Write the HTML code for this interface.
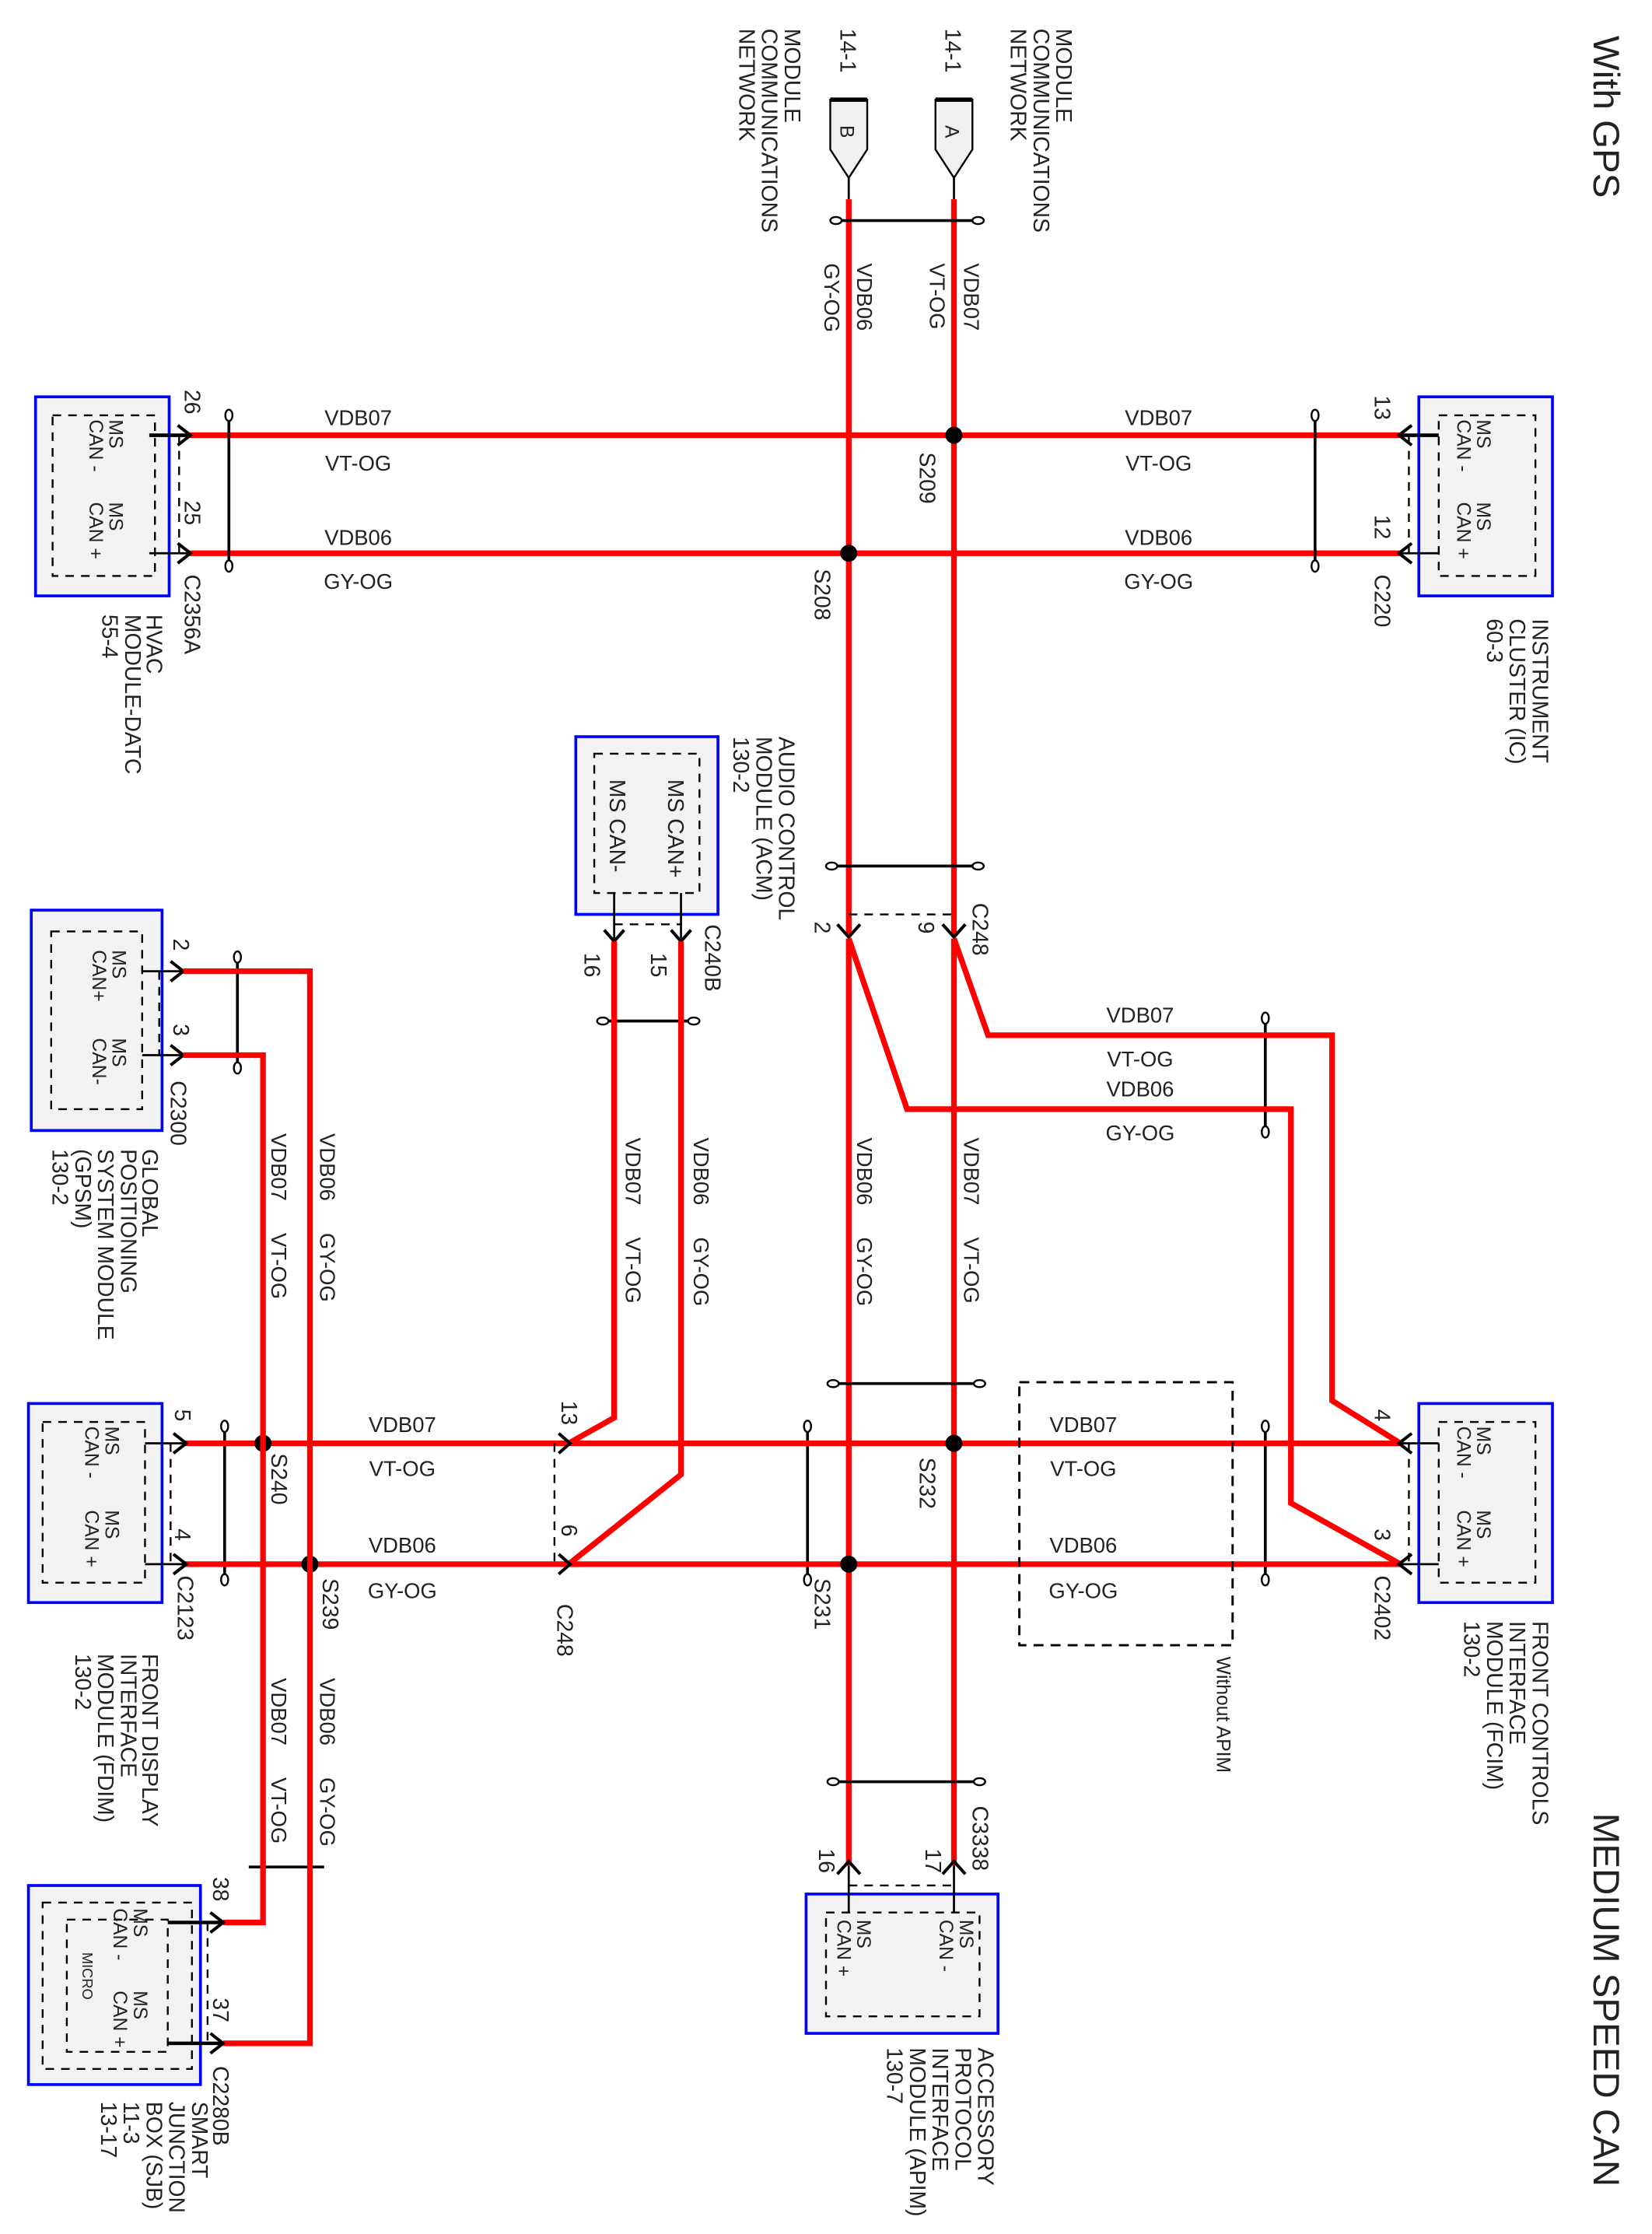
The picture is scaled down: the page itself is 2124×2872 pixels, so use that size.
<!DOCTYPE html>
<html><head><meta charset="utf-8">
<style>
html,body{margin:0;padding:0;background:#fff;}
svg{display:block;}
text{font-family:"Liberation Sans",Arial,sans-serif;fill:#222;}
.w{fill:none;stroke:#ff0000;stroke-width:4;stroke-linejoin:miter;}
.k{fill:none;stroke:#000;stroke-width:1.5;}
.a{fill:none;stroke:#000;stroke-width:2.2;}
.d{fill:none;stroke:#000;stroke-width:1.3;stroke-dasharray:6 5;}
.bx{fill:#f2f2f2;stroke:#0000ff;stroke-width:2;}
.t{font-size:15px;}
.s{font-size:15.5px;}
.x{font-size:13.5px;}
.tw{fill:#fff;stroke:#000;stroke-width:1.3;}
</style></head><body>
<svg width="2124" height="2872" viewBox="0 0 1162 1571" xmlns="http://www.w3.org/2000/svg">
<rect x="0" y="0" width="1162" height="1571" fill="#fff"/>

<!-- titles -->
<text transform="translate(1121 25) rotate(90)" style="font-size:26px">With GPS</text>
<text transform="translate(1121 1275) rotate(90)" style="font-size:26px">MEDIUM SPEED CAN</text>

<!-- top connectors A / B -->
<path d="M658 70 L684 70 L684 105 L671 125 L658 105 Z" fill="#f0f0f0" stroke="#000" stroke-width="1.3"/>
<line x1="658" y1="70" x2="684" y2="70" stroke="#000" stroke-width="3"/>
<text transform="translate(665 88) rotate(90)" class="x">A</text>
<path d="M584 70 L610 70 L610 105 L597 125 L584 105 Z" fill="#f0f0f0" stroke="#000" stroke-width="1.3"/>
<line x1="584" y1="70" x2="610" y2="70" stroke="#000" stroke-width="3"/>
<text transform="translate(591 88) rotate(90)" class="x">B</text>
<line x1="671" y1="125" x2="671" y2="140" class="k"/>
<line x1="597" y1="125" x2="597" y2="140" class="k"/>
<text transform="translate(665 20) rotate(90)" class="s">14-1</text>
<text transform="translate(591 20) rotate(90)" class="s">14-1</text>
<text transform="translate(743 20) rotate(90)" class="s">MODULE</text>
<text transform="translate(727 20) rotate(90)" class="s">COMMUNICATIONS</text>
<text transform="translate(711 20) rotate(90)" class="s">NETWORK</text>
<text transform="translate(552 20) rotate(90)" class="s">MODULE</text>
<text transform="translate(536 20) rotate(90)" class="s">COMMUNICATIONS</text>
<text transform="translate(520 20) rotate(90)" class="s">NETWORK</text>

<!-- main vertical wires -->
<line x1="671" y1="140" x2="671" y2="658" class="w"/>
<line x1="597" y1="140" x2="597" y2="658" class="w"/>
<line x1="671" y1="660" x2="671" y2="1312" class="w"/>
<line x1="597" y1="660" x2="597" y2="1312" class="w"/>
<text transform="translate(678 185) rotate(90)" class="t">VDB07</text>
<text transform="translate(654 185) rotate(90)" class="t">VT-OG</text>
<text transform="translate(603 185) rotate(90)" class="t">VDB06</text>
<text transform="translate(580 185) rotate(90)" class="t">GY-OG</text>

<!-- top horizontals -->
<line x1="133" y1="306" x2="985" y2="306" class="w"/>
<line x1="133" y1="389" x2="985" y2="389" class="w"/>
<circle cx="671" cy="306" r="6" fill="#000"/>
<circle cx="597" cy="389" r="6" fill="#000"/>
<text transform="translate(647 318) rotate(90)" class="s">S209</text>
<text transform="translate(573 400) rotate(90)" class="s">S208</text>
<text x="252" y="299" class="t" text-anchor="middle">VDB07</text>
<text x="252" y="331" class="t" text-anchor="middle">VT-OG</text>
<text x="252" y="383" class="t" text-anchor="middle">VDB06</text>
<text x="252" y="414" class="t" text-anchor="middle">GY-OG</text>
<text x="815" y="299" class="t" text-anchor="middle">VDB07</text>
<text x="815" y="331" class="t" text-anchor="middle">VT-OG</text>
<text x="815" y="383" class="t" text-anchor="middle">VDB06</text>
<text x="815" y="414" class="t" text-anchor="middle">GY-OG</text>

<!-- HVAC -->
<rect x="25" y="279" width="94" height="140" class="bx"/>
<rect x="37" y="292" width="72" height="113" class="d"/>
<line x1="105" y1="306" x2="133" y2="306" stroke="#000" stroke-width="2.5"/>
<line x1="105" y1="389" x2="133" y2="389" class="k"/>
<path d="M125 299 L134 306 L125 313" class="a"/>
<path d="M125 382 L134 389 L125 396" class="a"/>
<line x1="126" y1="306" x2="126" y2="389" class="d"/>
<text transform="translate(130 274) rotate(90)" class="s">26</text>
<text transform="translate(130 352) rotate(90)" class="s">25</text>
<text transform="translate(130 404) rotate(90)" class="s">C2356A</text>
<text transform="translate(77 295) rotate(90)" class="x">MS</text>
<text transform="translate(63 295) rotate(90)" class="x">CAN -</text>
<text transform="translate(77 353) rotate(90)" class="x">MS</text>
<text transform="translate(63 353) rotate(90)" class="x">CAN +</text>
<text transform="translate(103 432) rotate(90)" class="s">HVAC</text>
<text transform="translate(88 432) rotate(90)" class="s">MODULE-DATC</text>
<text transform="translate(72 432) rotate(90)" class="s">55-4</text>

<!-- IC -->
<rect x="998" y="279" width="94" height="140" class="bx"/>
<rect x="1012" y="292" width="68" height="113" class="d"/>
<line x1="985" y1="306" x2="1012" y2="306" stroke="#000" stroke-width="2.5"/>
<line x1="985" y1="389" x2="1012" y2="389" class="k"/>
<path d="M993 299 L984 306 L993 313" class="a"/>
<path d="M993 382 L984 389 L993 396" class="a"/>
<line x1="991" y1="306" x2="991" y2="389" class="d"/>
<text transform="translate(967 278) rotate(90)" class="s">13</text>
<text transform="translate(967 362) rotate(90)" class="s">12</text>
<text transform="translate(967 404) rotate(90)" class="s">C220</text>
<text transform="translate(1039 295) rotate(90)" class="x">MS</text>
<text transform="translate(1025 295) rotate(90)" class="x">CAN -</text>
<text transform="translate(1039 353) rotate(90)" class="x">MS</text>
<text transform="translate(1025 353) rotate(90)" class="x">CAN +</text>
<text transform="translate(1078 435) rotate(90)" class="s">INSTRUMENT</text>
<text transform="translate(1062 435) rotate(90)" class="s">CLUSTER (IC)</text>
<text transform="translate(1046 435) rotate(90)" class="s">60-3</text>

<!-- twist markers -->
<g class="tw">
<line x1="590" y1="155" x2="686" y2="155" stroke="#000" stroke-width="2"/>
<ellipse cx="588" cy="155" rx="4" ry="2.5"/><ellipse cx="688" cy="155" rx="4" ry="2.5"/>
<line x1="161" y1="293" x2="161" y2="397" stroke="#000" stroke-width="2"/>
<ellipse cx="161" cy="292" rx="2.5" ry="4"/><ellipse cx="161" cy="398" rx="2.5" ry="4"/>
<line x1="925" y1="293" x2="925" y2="397" stroke="#000" stroke-width="2"/>
<ellipse cx="925" cy="292" rx="2.5" ry="4"/><ellipse cx="925" cy="398" rx="2.5" ry="4"/>
<line x1="587" y1="609" x2="686" y2="609" stroke="#000" stroke-width="2"/>
<ellipse cx="585" cy="609" rx="4" ry="2.5"/><ellipse cx="688" cy="609" rx="4" ry="2.5"/>
<line x1="425" y1="718" x2="487" y2="718" stroke="#000" stroke-width="2"/>
<ellipse cx="424" cy="718" rx="4" ry="2.5"/><ellipse cx="488" cy="718" rx="4" ry="2.5"/>
<line x1="167" y1="674" x2="167" y2="750" stroke="#000" stroke-width="2"/>
<ellipse cx="167" cy="673" rx="2.5" ry="4"/><ellipse cx="167" cy="751" rx="2.5" ry="4"/>
<line x1="890" y1="717" x2="890" y2="795" stroke="#000" stroke-width="2"/>
<ellipse cx="890" cy="716" rx="2.5" ry="4"/><ellipse cx="890" cy="796" rx="2.5" ry="4"/>
<line x1="587" y1="973" x2="688" y2="973" stroke="#000" stroke-width="2"/>
<ellipse cx="586" cy="973" rx="4" ry="2.5"/><ellipse cx="689" cy="973" rx="4" ry="2.5"/>
<line x1="568" y1="1004" x2="568" y2="1110" stroke="#000" stroke-width="2"/>
<ellipse cx="568" cy="1003" rx="2.5" ry="4"/><ellipse cx="568" cy="1111" rx="2.5" ry="4"/>
<line x1="158" y1="1004" x2="158" y2="1110" stroke="#000" stroke-width="2"/>
<ellipse cx="158" cy="1003" rx="2.5" ry="4"/><ellipse cx="158" cy="1111" rx="2.5" ry="4"/>
<line x1="890" y1="1004" x2="890" y2="1110" stroke="#000" stroke-width="2"/>
<ellipse cx="890" cy="1003" rx="2.5" ry="4"/><ellipse cx="890" cy="1111" rx="2.5" ry="4"/>
<line x1="587" y1="1253" x2="688" y2="1253" stroke="#000" stroke-width="2"/>
<ellipse cx="586" cy="1253" rx="4" ry="2.5"/><ellipse cx="689" cy="1253" rx="4" ry="2.5"/>
<line x1="175" y1="1313" x2="228" y2="1313" stroke="#000" stroke-width="2"/>
</g>

<!-- ACM -->
<rect x="405" y="518" width="100" height="125" class="bx"/>
<rect x="418" y="530" width="74" height="98" class="d"/>
<text transform="translate(470 548) rotate(90)" class="s">MS CAN+</text>
<text transform="translate(429 548) rotate(90)" class="s">MS CAN-</text>
<line x1="432" y1="628" x2="432" y2="660" class="k"/>
<line x1="479" y1="628" x2="479" y2="660" class="k"/>
<line x1="432" y1="650" x2="479" y2="650" class="d"/>
<path d="M425 654 L432 662 L439 654" class="a"/>
<path d="M472 654 L479 662 L486 654" class="a"/>
<text transform="translate(411 670) rotate(90)" class="s">16</text>
<text transform="translate(458 670) rotate(90)" class="s">15</text>
<text transform="translate(496 650) rotate(90)" class="s">C240B</text>
<text transform="translate(548 518) rotate(90)" class="s">AUDIO CONTROL</text>
<text transform="translate(532 518) rotate(90)" class="s">MODULE (ACM)</text>
<text transform="translate(516 518) rotate(90)" class="s">130-2</text>
<polyline points="432,662 432,997 400,1015" class="w"/>
<polyline points="479,662 479,1037 400,1100" class="w"/>
<text transform="translate(440 800) rotate(90)" class="t">VDB07</text>
<text transform="translate(440 870) rotate(90)" class="t">VT-OG</text>
<text transform="translate(488 800) rotate(90)" class="t">VDB06</text>
<text transform="translate(488 870) rotate(90)" class="t">GY-OG</text>

<!-- C248 upper -->
<line x1="597" y1="643" x2="671" y2="643" class="d"/>
<path d="M589 650 L597 659 L605 650" class="a"/>
<path d="M663 650 L671 659 L679 650" class="a"/>
<text transform="translate(646 648) rotate(90)" class="s">9</text>
<text transform="translate(573 648) rotate(90)" class="s">2</text>
<text transform="translate(684 635) rotate(90)" class="s">C248</text>
<polyline points="671,660 695,728 937,728 937,985 985,1015" class="w"/>
<polyline points="597,660 638,780 908,780 908,1057 985,1100" class="w"/>
<text x="802" y="719" class="t" text-anchor="middle">VDB07</text>
<text x="802" y="750" class="t" text-anchor="middle">VT-OG</text>
<text x="802" y="771" class="t" text-anchor="middle">VDB06</text>
<text x="802" y="802" class="t" text-anchor="middle">GY-OG</text>
<text transform="translate(603 800) rotate(90)" class="t">VDB06</text>
<text transform="translate(603 870) rotate(90)" class="t">GY-OG</text>
<text transform="translate(678 800) rotate(90)" class="t">VDB07</text>
<text transform="translate(678 870) rotate(90)" class="t">VT-OG</text>

<!-- middle horizontals -->
<line x1="130" y1="1015" x2="985" y2="1015" class="w"/>
<line x1="130" y1="1100" x2="985" y2="1100" class="w"/>
<circle cx="671" cy="1015" r="6" fill="#000"/>
<circle cx="597" cy="1100" r="6" fill="#000"/>
<circle cx="185" cy="1015" r="6" fill="#000"/>
<circle cx="218" cy="1100" r="6" fill="#000"/>
<text transform="translate(647 1025) rotate(90)" class="s">S232</text>
<text transform="translate(573 1110) rotate(90)" class="s">S231</text>
<text transform="translate(191 1022) rotate(90)" class="s">S240</text>
<text transform="translate(227 1110) rotate(90)" class="s">S239</text>
<text x="283" y="1007" class="t" text-anchor="middle">VDB07</text>
<text x="283" y="1038" class="t" text-anchor="middle">VT-OG</text>
<text x="283" y="1092" class="t" text-anchor="middle">VDB06</text>
<text x="283" y="1124" class="t" text-anchor="middle">GY-OG</text>
<text x="762" y="1007" class="t" text-anchor="middle">VDB07</text>
<text x="762" y="1038" class="t" text-anchor="middle">VT-OG</text>
<text x="762" y="1092" class="t" text-anchor="middle">VDB06</text>
<text x="762" y="1124" class="t" text-anchor="middle">GY-OG</text>

<!-- Without APIM -->
<rect x="717" y="972" width="150" height="185" fill="none" stroke="#000" stroke-width="1.6" stroke-dasharray="7 5"/>
<text transform="translate(856 1165) rotate(90)" class="x">Without APIM</text>

<!-- C248 lower-left -->
<line x1="390" y1="1015" x2="390" y2="1100" class="d"/>
<path d="M393 1008 L401 1015 L393 1022" class="a"/>
<path d="M393 1093 L401 1100 L393 1107" class="a"/>
<text transform="translate(395 985) rotate(90)" class="s">13</text>
<text transform="translate(395 1072) rotate(90)" class="s">6</text>
<text transform="translate(392 1128) rotate(90)" class="s">C248</text>

<!-- FCIM -->
<rect x="998" y="987" width="94" height="140" class="bx"/>
<rect x="1012" y="1000" width="68" height="113" class="d"/>
<line x1="985" y1="1015" x2="1012" y2="1015" class="k"/>
<line x1="985" y1="1100" x2="1012" y2="1100" class="k"/>
<path d="M993 1008 L984 1015 L993 1022" class="a"/>
<path d="M993 1093 L984 1100 L993 1107" class="a"/>
<line x1="991" y1="1015" x2="991" y2="1100" class="d"/>
<text transform="translate(967 991) rotate(90)" class="s">4</text>
<text transform="translate(967 1075) rotate(90)" class="s">3</text>
<text transform="translate(967 1108) rotate(90)" class="s">C2402</text>
<text transform="translate(1039 1003) rotate(90)" class="x">MS</text>
<text transform="translate(1025 1003) rotate(90)" class="x">CAN -</text>
<text transform="translate(1039 1062) rotate(90)" class="x">MS</text>
<text transform="translate(1025 1062) rotate(90)" class="x">CAN +</text>
<text transform="translate(1078 1140) rotate(90)" class="s">FRONT CONTROLS</text>
<text transform="translate(1062 1140) rotate(90)" class="s">INTERFACE</text>
<text transform="translate(1046 1140) rotate(90)" class="s">MODULE (FCIM)</text>
<text transform="translate(1030 1140) rotate(90)" class="s">130-2</text>

<!-- FDIM -->
<rect x="20" y="987" width="94" height="140" class="bx"/>
<rect x="30" y="1000" width="72" height="113" class="d"/>
<line x1="102" y1="1015" x2="130" y2="1015" class="k"/>
<line x1="102" y1="1100" x2="130" y2="1100" class="k"/>
<path d="M122 1008 L131 1015 L122 1022" class="a"/>
<path d="M122 1093 L131 1100 L122 1107" class="a"/>
<line x1="120" y1="1015" x2="120" y2="1100" class="d"/>
<text transform="translate(123 991) rotate(90)" class="s">5</text>
<text transform="translate(123 1075) rotate(90)" class="s">4</text>
<text transform="translate(125 1108) rotate(90)" class="s">C2123</text>
<text transform="translate(74 1003) rotate(90)" class="x">MS</text>
<text transform="translate(60 1003) rotate(90)" class="x">CAN -</text>
<text transform="translate(74 1062) rotate(90)" class="x">MS</text>
<text transform="translate(60 1062) rotate(90)" class="x">CAN +</text>
<text transform="translate(100 1163) rotate(90)" class="s">FRONT DISPLAY</text>
<text transform="translate(85 1163) rotate(90)" class="s">INTERFACE</text>
<text transform="translate(69 1163) rotate(90)" class="s">MODULE (FDIM)</text>
<text transform="translate(53 1163) rotate(90)" class="s">130-2</text>

<!-- GPSM -->
<rect x="22" y="640" width="92" height="155" class="bx"/>
<rect x="36" y="655" width="64" height="125" class="d"/>
<line x1="100" y1="683" x2="128" y2="683" class="k"/>
<line x1="100" y1="742" x2="128" y2="742" class="k"/>
<path d="M120 676 L129 683 L120 690" class="a"/>
<path d="M120 735 L129 742 L120 749" class="a"/>
<line x1="112" y1="683" x2="112" y2="742" class="d"/>
<polyline points="129,683 218,683 218,1437 157,1437" class="w"/>
<polyline points="129,742 185,742 185,1352 157,1352" class="w"/>
<text transform="translate(122 660) rotate(90)" class="s">2</text>
<text transform="translate(122 720) rotate(90)" class="s">3</text>
<text transform="translate(120 760) rotate(90)" class="s">C2300</text>
<text transform="translate(79 668) rotate(90)" class="x">MS</text>
<text transform="translate(65 668) rotate(90)" class="x">CAN+</text>
<text transform="translate(79 730) rotate(90)" class="x">MS</text>
<text transform="translate(65 730) rotate(90)" class="x">CAN-</text>
<text transform="translate(100 808) rotate(90)" class="s">GLOBAL</text>
<text transform="translate(85 808) rotate(90)" class="s">POSITIONING</text>
<text transform="translate(69 808) rotate(90)" class="s">SYSTEM MODULE</text>
<text transform="translate(53 808) rotate(90)" class="s">(GPSM)</text>
<text transform="translate(37 808) rotate(90)" class="s">130-2</text>
<text transform="translate(225 797) rotate(90)" class="t">VDB06</text>
<text transform="translate(225 867) rotate(90)" class="t">GY-OG</text>
<text transform="translate(191 797) rotate(90)" class="t">VDB07</text>
<text transform="translate(191 867) rotate(90)" class="t">VT-OG</text>
<text transform="translate(191 1180) rotate(90)" class="t">VDB07</text>
<text transform="translate(191 1250) rotate(90)" class="t">VT-OG</text>
<text transform="translate(225 1180) rotate(90)" class="t">VDB06</text>
<text transform="translate(225 1250) rotate(90)" class="t">GY-OG</text>

<!-- SJB -->
<rect x="20" y="1326" width="121" height="140" class="bx"/>
<rect x="30" y="1338" width="105" height="117" class="d"/>
<rect x="47" y="1350" width="71" height="93" class="d"/>
<line x1="118" y1="1352" x2="157" y2="1352" stroke="#000" stroke-width="2.5"/>
<line x1="118" y1="1437" x2="157" y2="1437" stroke="#000" stroke-width="2.5"/>
<path d="M148 1345 L157 1352 L148 1359" class="a"/>
<path d="M148 1430 L157 1437 L148 1444" class="a"/>
<line x1="146" y1="1352" x2="146" y2="1437" class="d"/>
<text transform="translate(150 1320) rotate(90)" class="s">38</text>
<text transform="translate(150 1405) rotate(90)" class="s">37</text>
<text transform="translate(150 1453) rotate(90)" class="s">C2280B</text>
<text transform="translate(94 1342) rotate(90)" class="x">MS</text>
<text transform="translate(80 1342) rotate(90)" class="x">CAN -</text>
<text transform="translate(94 1400) rotate(90)" class="x">MS</text>
<text transform="translate(80 1400) rotate(90)" class="x">CAN +</text>
<text transform="translate(58 1373) rotate(90)" style="font-size:10px">MICRO</text>
<text transform="translate(135 1478) rotate(90)" class="s">SMART</text>
<text transform="translate(119 1478) rotate(90)" class="s">JUNCTION</text>
<text transform="translate(103 1478) rotate(90)" class="s">BOX (SJB)</text>
<text transform="translate(87 1478) rotate(90)" class="s">11-3</text>
<text transform="translate(71 1478) rotate(90)" class="s">13-17</text>

<!-- APIM -->
<rect x="567" y="1332" width="135" height="98" class="bx"/>
<rect x="581" y="1345" width="108" height="73" class="d"/>
<line x1="597" y1="1312" x2="597" y2="1345" class="k"/>
<line x1="671" y1="1312" x2="671" y2="1345" class="k"/>
<line x1="597" y1="1326" x2="671" y2="1326" class="d"/>
<path d="M589 1318 L597 1309 L605 1318" class="a"/>
<path d="M663 1318 L671 1309 L679 1318" class="a"/>
<text transform="translate(684 1270) rotate(90)" class="s">C3338</text>
<text transform="translate(651 1300) rotate(90)" class="s">17</text>
<text transform="translate(576 1300) rotate(90)" class="s">16</text>
<text transform="translate(675 1350) rotate(90)" class="x">MS</text>
<text transform="translate(661 1350) rotate(90)" class="x">CAN -</text>
<text transform="translate(603 1350) rotate(90)" class="x">MS</text>
<text transform="translate(589 1350) rotate(90)" class="x">CAN +</text>
<text transform="translate(688 1440) rotate(90)" class="s">ACCESSORY</text>
<text transform="translate(672 1440) rotate(90)" class="s">PROTOCOL</text>
<text transform="translate(656 1440) rotate(90)" class="s">INTERFACE</text>
<text transform="translate(640 1440) rotate(90)" class="s">MODULE (APIM)</text>
<text transform="translate(624 1440) rotate(90)" class="s">130-7</text>
</svg>
</body></html>
